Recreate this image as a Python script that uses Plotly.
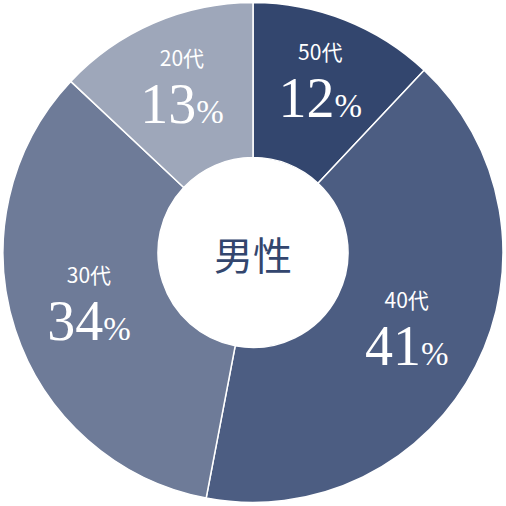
import plotly.graph_objects as go

ages = ['50代', '40代', '30代', '20代']
shares = [12, 41, 34, 13]
colors = ['#33466e', '#4c5d82', '#6e7b98', '#9ea7ba']
center_label = '男性'

label_style = "font-family:'Noto Sans CJK JP',sans-serif;font-size:21px"
num_style = "font-size:56px"
pct_style = "font-size:33px"

fig = go.Figure(go.Pie(
    labels=ages,
    values=shares,
    hole=0.38,
    sort=False,
    direction='clockwise',
    rotation=0,
    marker=dict(colors=colors, line=dict(color='white', width=1.5)),
    texttemplate="<span style=\"" + label_style + "\">%{label}</span><br>"
                 "<span style=\"" + num_style + "\">%{value}</span>"
                 "<span style=\"" + pct_style + "\">%</span>",
    textposition='inside',
    insidetextorientation='horizontal',
    insidetextfont=dict(color='white', size=44, family='Liberation Serif'),
    hoverinfo='label+percent',
    showlegend=False,
))

fig.add_annotation(
    text=center_label, x=0.5, y=0.5, xref='paper', yref='paper',
    showarrow=False,
    font=dict(size=39, color='#33466e', family='Noto Sans CJK JP'),
)

fig.update_layout(
    width=506, height=506,
    margin=dict(l=3, r=3, t=2, b=3),
    paper_bgcolor='white',
    plot_bgcolor='white',
)

# the page body has a default margin; drop it so the 506px figure fits the window
fig.write_html("out.html", config={'displayModeBar': False},
               post_script="document.body.style.margin='0';")
